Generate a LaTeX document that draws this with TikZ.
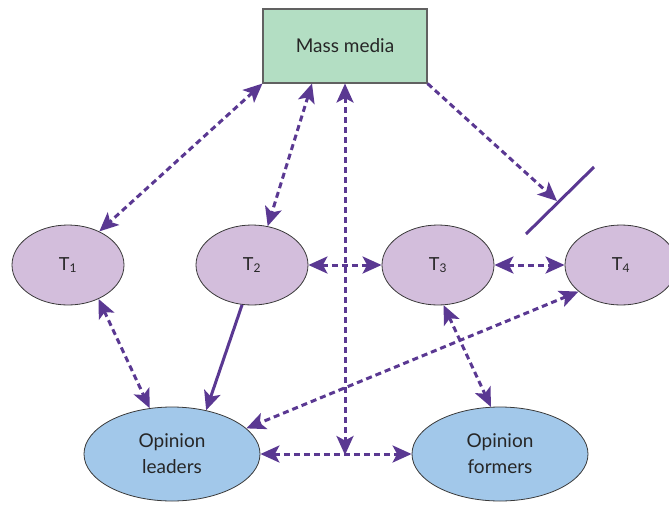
\documentclass[tikz,border=0pt]{standalone}
\usepackage{fontspec}
\setmainfont{Lato}
\usetikzlibrary{arrows.meta,shapes.geometric,calc}
\definecolor{mediagreen}{HTML}{B3DEC3}
\definecolor{targetlilac}{HTML}{D3BEDC}
\definecolor{opinionblue}{HTML}{A2C8EA}
\definecolor{linkpurple}{HTML}{5A3892}
\definecolor{edgegray}{HTML}{3A3A3A}
\tikzset{
  >={Stealth[length=19pt, width=17pt, inset=4.5pt]},
  mediabox/.style={draw=edgegray!80, line width=1.1pt, fill=mediagreen,
    minimum width=164pt, minimum height=74pt, inner sep=0pt,
    font=\fontsize{19}{22}\selectfont, text=black!85},
  target/.style={ellipse, draw=edgegray, line width=0.8pt, fill=targetlilac,
    minimum width=112pt, minimum height=80pt, inner sep=0pt,
    font=\fontsize{18}{20}\selectfont, text=black!85},
  opinion/.style={ellipse, draw=edgegray, line width=0.8pt, fill=opinionblue,
    minimum width=176pt, minimum height=94pt, inner sep=0pt, align=center,
    font=\fontsize{19}{26}\selectfont, text=black!85},
  twoway/.style={linkpurple, line width=3pt, dash pattern=on 6pt off 4pt,
    <->},
  oneway/.style={linkpurple, line width=3pt, dash pattern=on 6pt off 4pt,
    ->},
  flow/.style={linkpurple, line width=3pt, ->},
  barrier/.style={linkpurple, line width=3pt}
}
\newcommand{\tsub}[1]{T\textsubscript{\fontsize{12}{12}\selectfont #1}}
\begin{document}
\begin{tikzpicture}[x=1pt, y=-1pt]
  \useasboundingbox (0,0) rectangle (669,504);

  % nodes
  \node[mediabox] (mm) at (345,46) {Mass media};
  \node[target] (t1) at (68,265) {\tsub{1}};
  \node[target] (t2) at (252,265) {\tsub{2}};
  \node[target] (t3) at (438,265) {\tsub{3}};
  \node[target] (t4) at (621,265) {\tsub{4}};
  \node[opinion] (ol) at (172,454) {Opinion\\leaders};
  \node[opinion] (of) at (500,454) {Opinion\\formers};

  % blocked channel and meeting point of the central line
  \coordinate (barA) at (526,234);
  \coordinate (barB) at (594,167);
  \coordinate (hit) at (557,201);
  \coordinate (mid) at (345,455);

  % media links
  \draw[twoway] (mm.south west) -- (t1.47);
  \draw[twoway] ([xshift=-33pt]mm.south) -- (t2.68);
  \draw[twoway] (mm.south) -- (mid);
  \draw[oneway] (mm.south east) -- (hit);
  \draw[barrier] (barA) -- (barB);

  % links between targets
  \draw[twoway] (t2.east) -- (t3.west);
  \draw[twoway] (t3.east) -- (t4.west);

  % links to opinion leaders and formers
  \draw[twoway] (t1.-48) -- (ol.116);
  \draw[flow] (t2.-104) -- (ol.52);
  \draw[twoway] (t4.-148) -- (ol.19);
  \draw[twoway] (t3.-82) -- (of.101);
  \draw[twoway] (ol.east) -- (of.west);
\end{tikzpicture}
\end{document}
